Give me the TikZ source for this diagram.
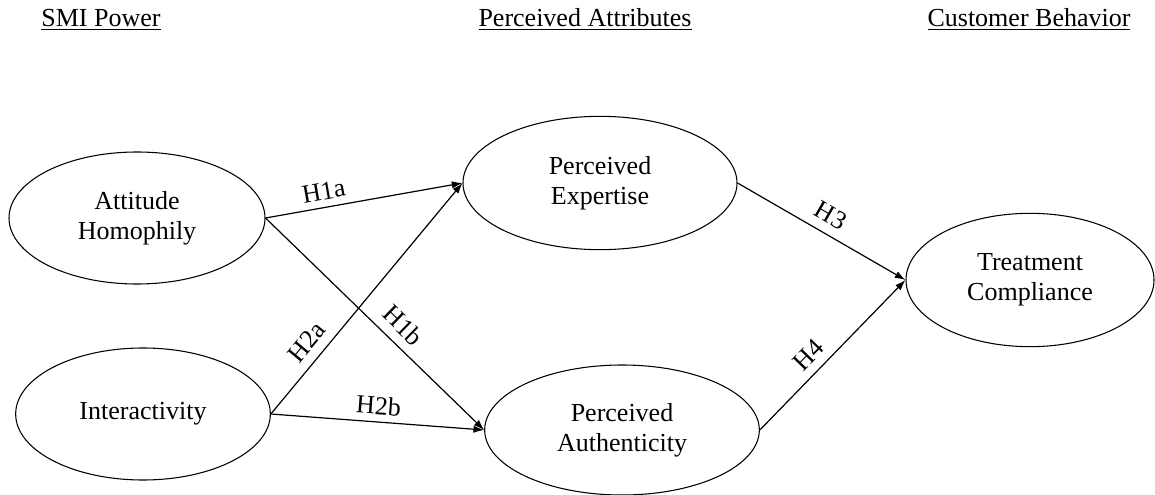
\documentclass[tikz,border=0pt]{standalone}
\usepackage{fontspec}
\setmainfont{Liberation Serif}
\usetikzlibrary{arrows.meta,shapes.geometric}
\begin{document}
\begin{tikzpicture}[x=0.75pt,y=-0.75pt,
  construct/.style={draw, ellipse, line width=0.8pt, inner sep=0pt, align=center,
    font=\fontsize{19.5}{22.5}\selectfont},
  header/.style={anchor=base, font=\fontsize{19.5}{22.5}\selectfont},
  path/.style={line width=0.9pt, -{Latex[length=8pt,width=5.5pt]}},
  hyp/.style={sloped, font=\fontsize{19.5}{22.5}\selectfont, inner sep=2pt}]
\useasboundingbox (0,0) rectangle (1155,495);
\node[header] (h1) at (101,27) {\underline{SMI Power}};
\node[header] (h2) at (585,27) {\underline{Perceived Attributes}};
\node[header] (h3) at (1029,27) {\underline{Customer Behavior}};
\node[construct, minimum width=192pt, minimum height=99pt] (ah) at (137,218) {Attitude\\Homophily};
\node[construct, minimum width=191pt, minimum height=99pt] (in) at (143,414) {Interactivity};
\node[construct, minimum width=205.5pt, minimum height=100pt] (pe) at (600,183) {Perceived\\Expertise};
\node[construct, minimum width=206pt, minimum height=97.5pt] (pa) at (622,430) {Perceived\\Authenticity};
\node[construct, minimum width=186pt, minimum height=100pt] (tc) at (1030,280) {Treatment\\Compliance};
\draw[path] (ah.east) -- node[hyp, above=3pt, pos=0.31] {H1a} (pe.west);
\draw[path] (ah.east) -- node[hyp, above=5pt, pos=0.57] {H1b} (pa.west);
\draw[path] (in.east) -- node[hyp, above=5pt, pos=0.26] {H2a} (pe.west);
\draw[path] (in.east) -- node[hyp, above=3pt, pos=0.5] {H2b} (pa.west);
\draw[path] (pe.east) -- node[hyp, above=5pt, pos=0.5] {H3} (tc.west);
\draw[path] (pa.east) -- node[hyp, above=4pt, pos=0.42] {H4} (tc.west);
\end{tikzpicture}
\end{document}
